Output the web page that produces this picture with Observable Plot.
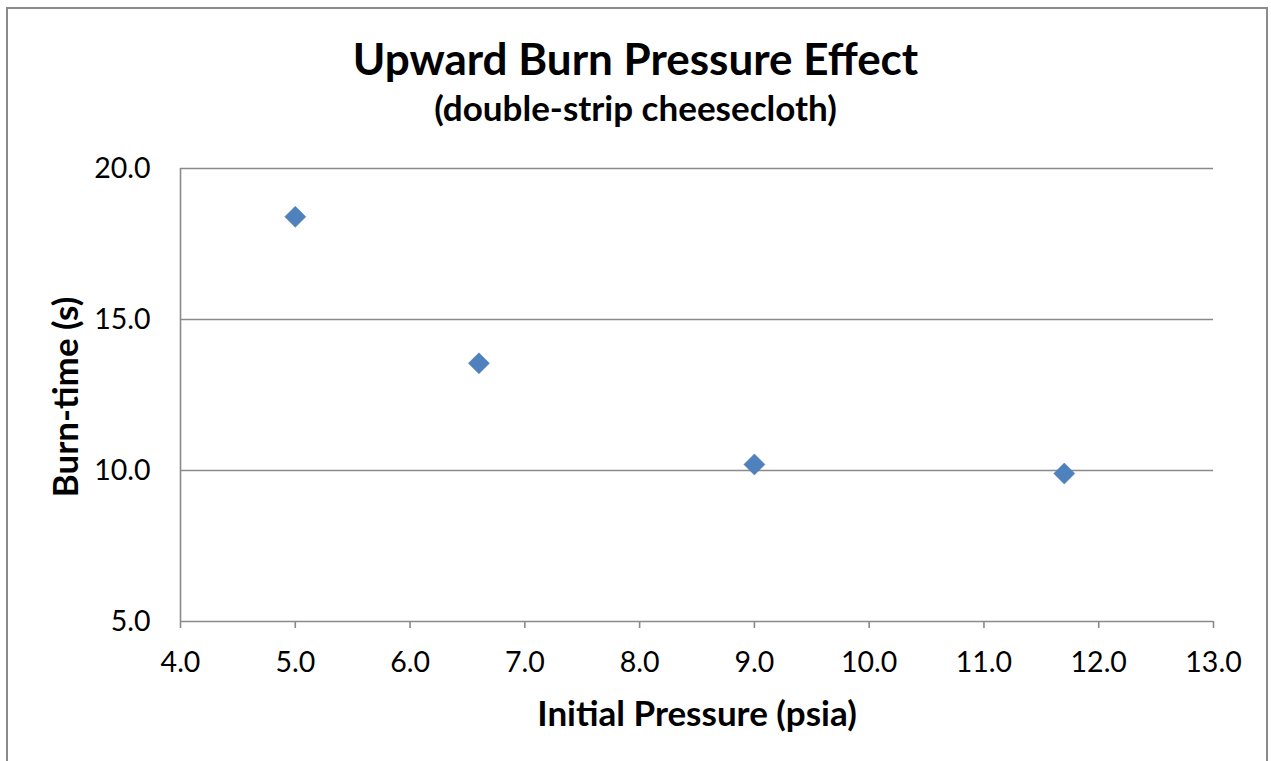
<!DOCTYPE html>
<html>
<head>
<meta charset="utf-8">
<script src="https://cdn.jsdelivr.net/npm/d3@7"></script>
<script src="https://cdn.jsdelivr.net/npm/@observablehq/plot@0.6"></script>
<style>
  html, body { margin: 0; padding: 0; background: #fff; }
  #chart { position: relative; width: 1271px; height: 761px; overflow: hidden; font-family: Lato, "Open Sans", sans-serif; }
  #frame { position: absolute; left: 6px; top: 7px; width: 1262px; height: 780px; border: 2px solid #8a8a8a; box-sizing: border-box; }
  .title { position: absolute; left: 0; width: 1271px; text-align: center; font-weight: 700; color: #000; white-space: nowrap; line-height: 1.2; }
  #t1 { top: 32px; font-size: 44px; }
  #t2 { top: 86px; font-size: 35px; }
  #plot { position: absolute; left: 0; top: 0; }
</style>
</head>
<body>
<div id="chart">
  <div id="frame"></div>
  <div id="plot"></div>
  <div class="title" id="t1">Upward Burn Pressure Effect</div>
  <div class="title" id="t2">(double-strip cheesecloth)</div>
</div>
<script>
// Initial pressure (psia) and measured burn time (s)
const pressure = [5.0, 6.6, 9.0, 11.7];
const burnTime = [18.4, 13.55, 10.2, 9.9];

const xTicks = [4, 5, 6, 7, 8, 9, 10, 11, 12, 13];
const yTicks = [5, 10, 15, 20];

const points = pressure.map((p, i) => ({pressure: p, burnTime: burnTime[i]}));

const gray = "#8a8a8a";
const fmt = d3.format(".1f");

const chart = Plot.plot({
  width: 1271,
  height: 761,
  marginTop: 168,
  marginLeft: 180,
  marginRight: 58,
  marginBottom: 140,
  style: {fontFamily: "Lato, 'Open Sans', sans-serif", background: "transparent", color: "#000"},
  x: {domain: [4, 13]},
  y: {domain: [5, 20]},
  marks: [
    Plot.ruleY(yTicks, {stroke: gray, strokeWidth: 1.6}),
    Plot.ruleX([4], {stroke: gray, strokeWidth: 1.6}),
    Plot.axisX(xTicks, {
      tickSize: 7, tickPadding: 23, tickFormat: fmt, stroke: gray, strokeWidth: 1.6,
      fontSize: 28.5, fill: "#000", label: null
    }),
    Plot.axisY(yTicks, {
      tickSize: 0, tickPadding: 30, tickFormat: fmt, fontSize: 28.5, fill: "#000", label: null
    }),
    Plot.text(["Initial Pressure (psia)"], {
      frameAnchor: "bottom", lineAnchor: "middle", textAnchor: "middle", dy: 93,
      fontSize: 35, fontWeight: "bold", fill: "#000"
    }),
    Plot.text(["Burn-time (s)"], {
      frameAnchor: "left", lineAnchor: "middle", textAnchor: "middle", dx: -114, dy: 2, rotate: -90,
      fontSize: 35, fontWeight: "bold", fill: "#000"
    }),
    Plot.dot(points, {
      x: "pressure", y: "burnTime", symbol: "diamond2", r: 9.5,
      fill: "#4f81bd", stroke: "#4a7ab5", strokeWidth: 0.5
    })
  ]
});

document.getElementById("plot").appendChild(chart);
</script>
</body>
</html>
